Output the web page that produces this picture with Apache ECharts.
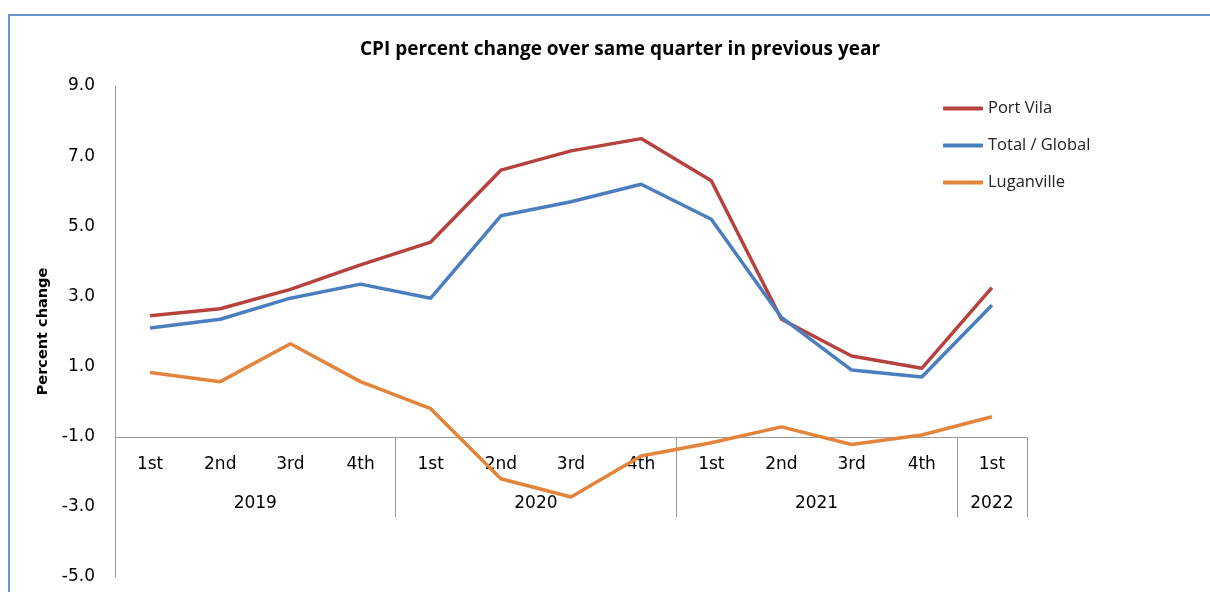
<!DOCTYPE html>
<html>
<head>
<meta charset="utf-8">
<script src="https://cdn.jsdelivr.net/npm/echarts@6/dist/echarts.min.js"></script>
<style>
  html, body { margin: 0; padding: 0; background: #ffffff; }
  #main { width: 1210px; height: 592px; }
</style>
</head>
<body>
<div id="main"></div>
<script>
// quarters (first level of the category axis)
var quarters = ['1st', '2nd', '3rd', '4th', '1st', '2nd', '3rd', '4th', '1st', '2nd', '3rd', '4th', '1st'];
// years (second level), placed at the middle of their quarters
var years = ['2019', '2020', '2021', '2022'];
var yearCenters = [2, 6, 10, 12.5];
var yearBounds = [0, 4, 8, 12, 13];

var portVila = [2.45, 2.65, 3.2, 3.9, 4.55, 6.6, 7.15, 7.5, 6.3, 2.35, 1.3, 0.95, 3.25];
var totalGlobal = [2.1, 2.35, 2.95, 3.35, 2.95, 5.3, 5.7, 6.2, 5.2, 2.4, 0.9, 0.7, 2.75];
var luganville = [0.83, 0.57, 1.65, 0.57, -0.2, -2.2, -2.72, -1.55, -1.17, -0.72, -1.22, -0.95, -0.43];

var chart = echarts.init(document.getElementById('main'));

var axisGrey = '#9a9a9a';
var labelFont = 'DejaVu Sans';

chart.setOption({
  animation: false,
  title: {
    text: 'CPI percent change over same quarter in previous year',
    left: 615,
    textAlign: 'center',
    top: 35,
    textStyle: { fontFamily: 'Open Sans', fontWeight: 'bold', fontSize: 19, color: '#000' }
  },
  legend: {
    orient: 'vertical',
    left: 938,
    top: 95,
    itemWidth: 40,
    itemHeight: 4,
    itemGap: 20,
    icon: 'roundRect',
    textStyle: { fontFamily: 'Open Sans', fontSize: 16.5, color: '#222' },
    data: ['Port Vila', 'Total / Global', 'Luganville']
  },
  graphic: [{
    type: 'rect',
    shape: { x: 9, y: 15, width: 1400, height: 800 },
    style: { fill: 'none', stroke: '#6b95d2', lineWidth: 2 },
    silent: true
  }],
  grid: [
    { left: 115, right: 183, top: 86, bottom: 15 },
    { left: 115, right: 183, top: 86, height: 351 }
  ],
  xAxis: [
    { type: 'category', gridIndex: 0, data: quarters, show: false },
    {
      type: 'category', gridIndex: 1, data: quarters, position: 'bottom',
      axisLine: { onZero: false, lineStyle: { color: axisGrey, width: 1 } },
      axisTick: { show: false },
      axisLabel: { margin: 19, fontFamily: labelFont, fontSize: 17, color: '#000' }
    },
    {
      type: 'value', gridIndex: 1, min: 0, max: 13, position: 'bottom',
      splitLine: { show: false },
      axisLine: { show: false, onZero: false },
      axisTick: { show: true, customValues: yearBounds, length: 80, lineStyle: { color: axisGrey } },
      axisLabel: {
        customValues: yearCenters, margin: 58, fontFamily: labelFont, fontSize: 17, color: '#000',
        formatter: function (v) {
          var i = yearCenters.indexOf(v);
          return i >= 0 ? years[i] : '';
        }
      }
    }
  ],
  yAxis: [
    {
      type: 'value', gridIndex: 0, min: -5, max: 9, interval: 1,
      name: 'Percent change',
      nameLocation: 'middle',
      nameGap: 64,
      nameTextStyle: { fontFamily: labelFont, fontWeight: 'bold', fontSize: 14.5, color: '#000' },
      axisLine: { show: true, lineStyle: { color: axisGrey } },
      axisTick: { show: false },
      splitLine: { show: false },
      axisLabel: {
        margin: 20, fontFamily: labelFont, fontSize: 17, color: '#000',
        formatter: function (v) {
          return Math.abs(v % 2) === 1 ? v.toFixed(1) : '';
        }
      }
    },
    { type: 'value', gridIndex: 1, min: -1, max: 9, show: false }
  ],
  series: [
    {
      name: 'Port Vila', type: 'line', xAxisIndex: 0, yAxisIndex: 0, data: portVila,
      symbol: 'none', lineStyle: { width: 3.5, color: '#b6423e' }, itemStyle: { color: '#b6423e' }
    },
    {
      name: 'Total / Global', type: 'line', xAxisIndex: 0, yAxisIndex: 0, data: totalGlobal,
      symbol: 'none', lineStyle: { width: 3.5, color: '#4a7ebf' }, itemStyle: { color: '#4a7ebf' }
    },
    {
      name: 'Luganville', type: 'line', xAxisIndex: 0, yAxisIndex: 0, data: luganville,
      symbol: 'none', lineStyle: { width: 3.5, color: '#e3843c' }, itemStyle: { color: '#e3843c' }
    }
  ]
});
</script>
</body>
</html>
